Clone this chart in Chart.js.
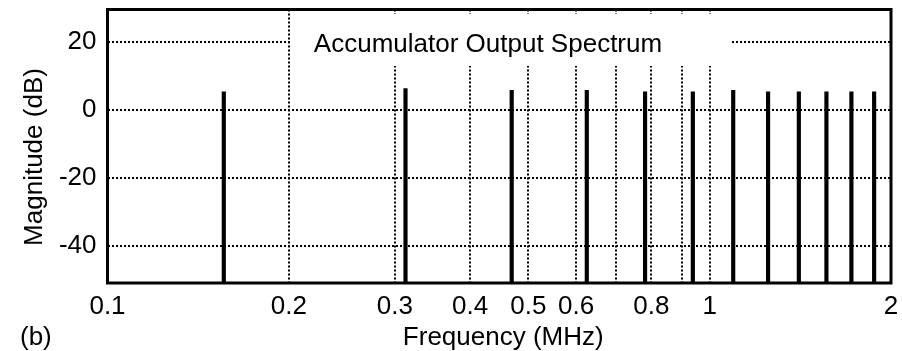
<!DOCTYPE html>
<html>
<head>
<meta charset="utf-8">
<script src="https://cdn.jsdelivr.net/npm/chart.js@4"></script>
<style>
html, body { margin: 0; padding: 0; background: #fff; }
</style>
</head>
<body>
<canvas id="grafico" width="902" height="351"></canvas>
<script>
// Datos
const frecuencias = [0.156, 0.3125, 0.469, 0.625, 0.781, 0.9375, 1.094, 1.25, 1.406, 1.5625, 1.719, 1.875];
const magnitudes = [5.3, 6.2, 5.7, 5.7, 5.3, 5.3, 5.7, 5.3, 5.3, 5.3, 5.3, 5.3];
const ticksX = [0.1, 0.2, 0.3, 0.4, 0.5, 0.6, 0.7, 0.8, 0.9, 1, 2];
const etiquetasX = [0.1, 0.2, 0.3, 0.4, 0.5, 0.6, 0.8, 1, 2];
const ticksY = [-40, -20, 0, 20];
const rangoX = [0.1, 2];
const rangoY = [-51, 29.5];

const FUENTE = '"Liberation Sans", Arial, sans-serif';

const decoracion = {
    id: 'decoracion',
    beforeDatasetsDraw(chart) {
        const ctx = chart.ctx;
        ctx.save();
        // caja blanca del titulo sobre la rejilla
        ctx.fillStyle = '#fff';
        ctx.fillRect(290, 14, 442, 52);
        ctx.fillStyle = '#000';
        ctx.font = '26px ' + FUENTE;
        ctx.textAlign = 'center';
        ctx.textBaseline = 'alphabetic';
        ctx.fillText('Accumulator Output Spectrum', 488, 52);
        ctx.restore();
    },
    afterDraw(chart) {
        const ctx = chart.ctx;
        const a = chart.chartArea;
        ctx.save();
        ctx.strokeStyle = '#000';
        ctx.lineWidth = 3;
        ctx.strokeRect(a.left, a.top, a.right - a.left, a.bottom - a.top);

        ctx.fillStyle = '#000';
        ctx.font = '26px ' + FUENTE;
        ctx.textBaseline = 'alphabetic';
        ctx.textAlign = 'center';
        ctx.fillText('Frequency (MHz)', (a.left + a.right) / 2 + 4, 345);
        ctx.textAlign = 'left';
        ctx.fillText('(b)', 20, 345);

        ctx.translate(42, 157);
        ctx.rotate(-Math.PI / 2);
        ctx.textAlign = 'center';
        ctx.fillText('Magnitude (dB)', 0, 0);
        ctx.restore();
    }
};

const ctx = document.getElementById('grafico').getContext('2d');
new Chart(ctx, {
    type: 'bar',
    data: {
        datasets: [{
            data: frecuencias.map((f, i) => ({ x: f, y: magnitudes[i] })),
            base: rangoY[0],
            backgroundColor: '#000',
            borderWidth: 0,
            barThickness: 3.5
        }]
    },
    options: {
        responsive: false,
        animation: false,
        layout: { padding: { top: 9.5, right: 11, left: 0, bottom: 0 } },
        plugins: {
            legend: { display: false },
            tooltip: { enabled: false },
            title: { display: false }
        },
        scales: {
            x: {
                type: 'logarithmic',
                min: rangoX[0],
                max: rangoX[1],
                afterBuildTicks: function(scale) {
                    scale.ticks = ticksX.map(v => ({ value: v }));
                },
                afterFit: function(scale) {
                    scale.height = 68;
                    scale.paddingLeft = 0;
                    scale.paddingRight = 0;
                },
                grid: { color: '#000', lineWidth: 2, drawTicks: false, offset: false },
                border: { display: false, dash: [2, 2] },
                ticks: {
                    autoSkip: false,
                    maxRotation: 0,
                    padding: 8,
                    color: '#000',
                    font: { family: FUENTE, size: 26 },
                    callback: function(value) {
                        return etiquetasX.includes(value) ? String(value) : '';
                    }
                }
            },
            y: {
                min: rangoY[0],
                max: rangoY[1],
                afterBuildTicks: function(scale) {
                    scale.ticks = ticksY.map(v => ({ value: v }));
                },
                afterFit: function(scale) {
                    scale.width = 107.5;
                    scale.paddingTop = 0;
                    scale.paddingBottom = 0;
                },
                grid: { color: '#000', lineWidth: 2, drawTicks: false },
                border: { display: false, dash: [2, 2] },
                ticks: {
                    padding: 11,
                    color: '#000',
                    font: { family: FUENTE, size: 26 }
                }
            }
        }
    },
    plugins: [decoracion]
});
</script>
</body>
</html>
